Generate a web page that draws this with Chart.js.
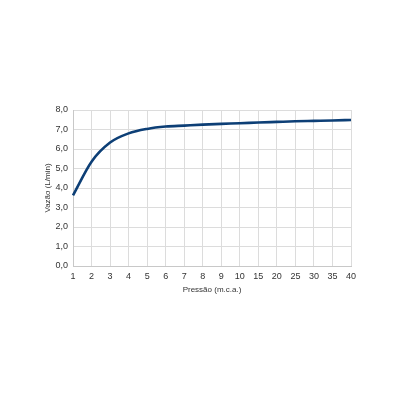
<!DOCTYPE html>
<html>
<head>
<meta charset="utf-8">
<script src="https://cdn.jsdelivr.net/npm/chart.js@4"></script>
<style>
html,body{margin:0;padding:0;background:#fff;}
#wrap{width:400px;height:400px;}
</style>
</head>
<body>
<div id="wrap"><canvas id="c" width="400" height="400"></canvas></div>
<script>
const pressao = ["1","2","3","4","5","6","7","8","9","10","15","20","25","30","35","40"];
const vazao = [3.62, 5.35, 6.33, 6.8, 7.03, 7.15, 7.2, 7.25, 7.29, 7.32, 7.36, 7.39, 7.42, 7.44, 7.46, 7.49];
const yMin = 0, yMax = 8, yStep = 1;
const xTitle = "Pressão (m.c.a.)";
const yTitle = "Vazão (L/min)";

const fontFamily = "'Liberation Sans', Arial, sans-serif";
new Chart(document.getElementById('c'), {
  type: 'line',
  data: {
    labels: pressao,
    datasets: [{
      data: vazao,
      borderColor: '#0d3f76',
      borderWidth: 2.6,
      pointRadius: 0,
      fill: false,
      cubicInterpolationMode: 'monotone'
    }]
  },
  options: {
    responsive: false,
    animation: false,
    devicePixelRatio: 1,
    layout: { padding: { left: 43, right: 49, top: 110, bottom: 105 } },
    plugins: { legend: { display: false }, tooltip: { enabled: false } },
    scales: {
      x: {
        offset: false,
        grid: { color: '#dcdcdc', lineWidth: 1, drawTicks: false },
        border: { color: '#c8c8c8' },
        ticks: { color: '#333', font: { family: fontFamily, size: 9 }, padding: 5, maxRotation: 0, autoSkip: false },
        title: { display: true, text: xTitle, color: '#333', font: { family: fontFamily, size: 8 }, padding: { top: 6, bottom: 0 } },
        afterFit: (a) => { a.height = 29; }
      },
      y: {
        min: yMin, max: yMax,
        grid: { color: '#dcdcdc', lineWidth: 1, drawTicks: false },
        border: { color: '#c8c8c8' },
        ticks: {
          stepSize: yStep, color: '#333', font: { family: fontFamily, size: 9 }, padding: 5,
          callback: (v) => Number(v).toFixed(1).replace('.', ',')
        },
        title: { display: true, text: yTitle, color: '#333', font: { family: fontFamily, size: 8 }, padding: { top: 0, bottom: 0 } },
        afterFit: (a) => { a.width = 30; }
      }
    }
  }
});
</script>
</body>
</html>
